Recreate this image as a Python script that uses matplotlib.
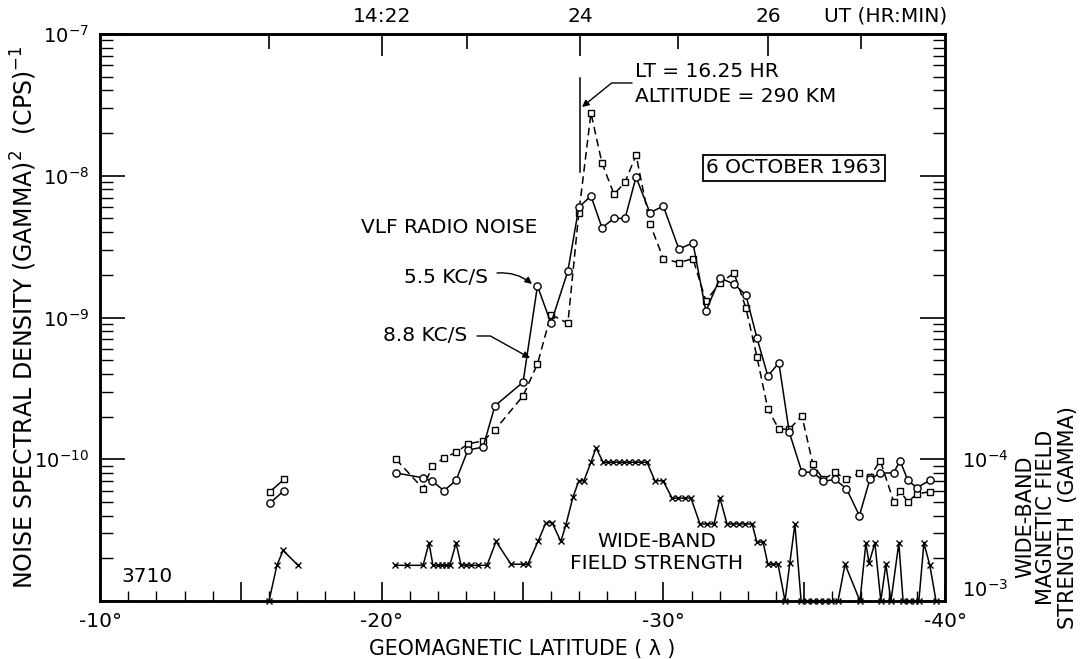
import numpy as np
import matplotlib
matplotlib.use('Agg')
import matplotlib.pyplot as plt
from matplotlib.ticker import MultipleLocator, FixedLocator, FuncFormatter, LogLocator, NullFormatter

plt.rcParams['font.family'] = 'DejaVu Sans'
plt.rcParams['mathtext.default'] = 'regular'

# short stretch of data near -16 deg
lat_early = [-16.03, -16.53]
ci_early = [4.9e-11, 6.0e-11]          # 5.5 kc/s
sq_early = [5.9e-11, 7.2e-11]          # 8.8 kc/s
lat_fs_early = [-16.00, -16.28, -16.50, -17.03]
fs_early = [1.0e-3, 5.6e-4, 4.4e-4, 5.6e-4]   # gamma

# main pass
lat_main = [-20.51, -21.47, -21.80, -22.21, -22.64, -23.06, -23.60, -24.02, -25.02, -25.53,
            -26.01, -26.61, -27.00, -27.43, -27.82, -28.25, -28.64, -29.03, -29.52, -30.00,
            -30.55, -31.05, -31.51, -32.01, -32.51, -32.93, -33.32, -33.71, -34.10, -34.47,
            -34.92, -35.31, -35.68, -36.09, -36.50, -36.96, -37.33, -37.70, -38.18, -38.40,
            -38.68, -39.00, -39.46]
ci_55 = [8.0e-11, 7.4e-11, 7.0e-11, 6.0e-11, 7.1e-11, 1.16e-10, 1.22e-10, 2.38e-10, 3.5e-10, 1.67e-9,
         9.1e-10, 2.13e-9, 6.0e-9, 7.2e-9, 4.3e-9, 5.0e-9, 5.0e-9, 9.8e-9, 5.5e-9, 6.1e-9,
         3.04e-9, 3.36e-9, 1.11e-9, 1.90e-9, 1.72e-9, 1.44e-9, 7.2e-10, 3.86e-10, 4.8e-10, 1.55e-10,
         8.1e-11, 8.1e-11, 7.0e-11, 7.2e-11, 6.2e-11, 4.0e-11, 7.2e-11, 8.0e-11, 8.0e-11, 9.8e-11,
         7.1e-11, 6.3e-11, 7.1e-11]
sq_88 = [1.0e-10, 6.2e-11, 9.0e-11, 1.02e-10, 1.12e-10, 1.28e-10, 1.35e-10, 1.61e-10, 2.8e-10, 4.7e-10,
         1.05e-9, 9.1e-10, 5.5e-9, 2.77e-8, 1.23e-8, 7.4e-9, 9.0e-9, 1.40e-8, 4.6e-9, 2.6e-9,
         2.44e-9, 2.6e-9, 1.31e-9, 1.75e-9, 2.06e-9, 1.17e-9, 5.3e-10, 2.26e-10, 1.63e-10, 1.63e-10,
         2.02e-10, 9.2e-11, 7.2e-11, 8.1e-11, 7.2e-11, 8.0e-11, 7.5e-11, 9.8e-11, 5.0e-11, 6.0e-11,
         5.0e-11, 5.7e-11, 5.9e-11]

lat_fs = [-20.47, -20.90, -21.47, -21.68, -21.82, -22.00, -22.14, -22.28, -22.42, -22.64,
          -22.82, -22.99, -23.17, -23.42, -23.74, -24.06, -24.59, -25.02, -25.19, -25.55,
          -25.83, -26.05, -26.36, -26.54, -26.79, -27.00, -27.18, -27.43, -27.61, -27.86,
          -28.03, -28.21, -28.42, -28.60, -28.78, -28.99, -29.20, -29.42, -29.70, -29.99,
          -30.31, -30.52, -30.77, -30.98, -31.30, -31.55, -31.80, -32.01, -32.26, -32.47,
          -32.68, -32.90, -33.15, -33.32, -33.54, -33.71, -33.89, -34.07, -34.32, -34.49,
          -34.67, -34.89, -35.10, -35.31, -35.52, -35.74, -35.95, -36.20, -36.45, -36.98,
          -37.19, -37.30, -37.51, -37.72, -37.90, -38.08, -38.36, -38.51, -38.72, -38.93,
          -39.07, -39.25, -39.46, -39.68]
fs_gamma = [5.6e-4, 5.6e-4, 5.6e-4, 3.9e-4, 5.6e-4, 5.6e-4, 5.6e-4, 5.6e-4, 5.6e-4, 3.9e-4,
            5.6e-4, 5.6e-4, 5.6e-4, 5.6e-4, 5.6e-4, 3.8e-4, 5.5e-4, 5.5e-4, 5.5e-4, 3.8e-4,
            2.8e-4, 2.8e-4, 3.8e-4, 2.9e-4, 1.85e-4, 1.42e-4, 1.42e-4, 1.05e-4, 8.3e-5, 1.05e-4,
            1.05e-4, 1.05e-4, 1.05e-4, 1.05e-4, 1.05e-4, 1.05e-4, 1.05e-4, 1.05e-4, 1.42e-4, 1.42e-4,
            1.88e-4, 1.88e-4, 1.88e-4, 1.88e-4, 2.86e-4, 2.86e-4, 2.86e-4, 1.88e-4, 2.86e-4, 2.86e-4,
            2.86e-4, 2.86e-4, 2.86e-4, 3.84e-4, 3.84e-4, 5.5e-4, 5.5e-4, 5.5e-4, 1.0e-3, 5.4e-4,
            2.87e-4, 1.0e-3, 1.0e-3, 1.0e-3, 1.0e-3, 1.0e-3, 1.0e-3, 1.0e-3, 5.5e-4, 1.0e-3,
            3.9e-4, 5.4e-4, 3.9e-4, 1.0e-3, 5.5e-4, 1.0e-3, 3.9e-4, 1.0e-3, 1.0e-3, 1.0e-3,
            1.0e-3, 3.9e-4, 5.6e-4, 1.0e-3]

# UT time marks on top axis (latitude where each minute falls)
ut_lat_major = [-20.01, -27.04, -33.71]
ut_labels = ['14:22', '24', '26']
ut_lat_minor = [-16.00, -23.03, -30.52, -37.01]
lt_mark_lat = -27.04

fig = plt.figure(figsize=(10.87, 6.59), dpi=100)
ax = fig.add_axes([0.092, 0.088, 0.7774, 0.8604])

line_kw = dict(color='k', lw=1.1, mec='k', mfc='white', mew=1.0, clip_on=False)
ax.plot(lat_main, sq_88, ls=(0, (5, 3)), marker='s', ms=4.2, zorder=3, **line_kw)
ax.plot(lat_early, sq_early, ls='-', marker='s', ms=4.2, zorder=3, **line_kw)
ax.plot(lat_main, ci_55, ls='-', marker='o', ms=5.2, zorder=4, **line_kw)
ax.plot(lat_early, ci_early, ls='-', marker='o', ms=5.2, zorder=4, **line_kw)

ax.set_yscale('log')
ax.set_ylim(1e-11, 1e-7)
ax.set_xlim(-10, -40)

ax2 = ax.twinx()
ax2.set_yscale('log')
ax2.set_ylim(1e-3, 1e-7)
ax2.plot(lat_fs, fs_gamma, ls='-', marker='x', ms=4.5, **line_kw)
ax2.plot(lat_fs_early, fs_early, ls='-', marker='x', ms=4.5, **line_kw)
ax2.yaxis.set_major_locator(FixedLocator([1e-4, 1e-3]))
ax2.yaxis.set_minor_locator(FixedLocator([]))
ax2.yaxis.set_major_formatter(FuncFormatter(lambda v, p: r'$10^{%d}$' % round(np.log10(v))))
ax2.tick_params(axis='y', which='both', length=0, labelsize=14, pad=12)
ax2.get_yticklabels()[1].set_verticalalignment('bottom')
ax2.set_ylabel('WIDE-BAND\nMAGNETIC FIELD\nSTRENGTH  (GAMMA)', fontsize=15,
               rotation=90, ha='center', va='center', linespacing=1.1)
ax2.yaxis.set_label_coords(1.12, 0.148)

# left axis ticks
ax.yaxis.set_major_locator(LogLocator(base=10, numticks=10))
ax.yaxis.set_minor_locator(LogLocator(base=10, subs=np.arange(2, 10), numticks=20))
ax.yaxis.set_minor_formatter(NullFormatter())
ax.yaxis.set_major_formatter(FuncFormatter(
    lambda v, p: '' if v < 5e-11 else r'$10^{%d}$' % round(np.log10(v))))
ax.tick_params(axis='y', which='major', direction='in', length=18, width=1.2,
               left=True, right=True, labelsize=14, pad=8)
ax.tick_params(axis='y', which='minor', direction='in', length=9, width=1.0,
               left=True, right=True)

# bottom axis ticks
ax.xaxis.set_major_locator(MultipleLocator(5))
ax.xaxis.set_minor_locator(MultipleLocator(1))
ax.xaxis.set_major_formatter(FuncFormatter(
    lambda v, p: '-%d°' % abs(round(v)) if round(v) % 10 == 0 else ''))
ax.tick_params(axis='x', which='major', direction='in', length=14, width=1.2,
               top=False, labelsize=14.5, pad=8)
ax.tick_params(axis='x', which='minor', direction='in', length=7, width=1.0, top=False)

# top UT axis
secax = ax.secondary_xaxis('top')
secax.xaxis.set_major_locator(FixedLocator(ut_lat_major))
secax.xaxis.set_major_formatter(FuncFormatter(lambda v, p: ut_labels[p] if p is not None and p < len(ut_labels) else ''))
secax.xaxis.set_minor_locator(FixedLocator(ut_lat_minor))
secax.tick_params(which='major', direction='in', length=16, width=1.2, labelsize=14.5, pad=6)
secax.tick_params(which='minor', direction='in', length=11, width=1.2)
secax.spines['top'].set_linewidth(1.8)

for sp in ax.spines.values():
    sp.set_linewidth(1.8)
for sp in ax2.spines.values():
    sp.set_linewidth(1.8)

ax.set_xlabel('GEOMAGNETIC LATITUDE ( λ )', fontsize=14.8, labelpad=6)
ax.set_ylabel(r'NOISE SPECTRAL DENSITY (GAMMA)$^2$  (CPS)$^{-1}$', fontsize=17,
              va='center')
ax.yaxis.set_label_coords(-0.09, 0.5)

fig.text(0.9296 * 0.7774 + 0.092, 0.975, 'UT (HR:MIN)', fontsize=14.5, ha='center', va='center')

# annotations
fs_txt = 14.5
ax.plot([lt_mark_lat, lt_mark_lat], [1.06e-8, 4.9e-8], color='k', lw=1.1)
ax.text(0.6331, 0.933, 'LT = 16.25 HR', transform=ax.transAxes, fontsize=fs_txt, va='center')
ax.text(0.6331, 0.889, 'ALTITUDE = 290 KM', transform=ax.transAxes, fontsize=fs_txt, va='center')
ax.annotate('', xy=(0.5704, 0.8713), xytext=(0.6296, 0.9136),
            xycoords='axes fraction', textcoords='axes fraction',
            arrowprops=dict(arrowstyle='-|>', color='k', lw=1.0, mutation_scale=10,
                            connectionstyle='angle,angleA=0,angleB=39,rad=0',
                            shrinkA=0, shrinkB=0))
ax.text(0.8213, 0.7637, '6 OCTOBER 1963', transform=ax.transAxes, fontsize=fs_txt,
        ha='center', va='center',
        bbox=dict(boxstyle='square,pad=0.15', fc='white', ec='k', lw=1.3))
ax.text(0.4136, 0.6596, 'VLF RADIO NOISE', transform=ax.transAxes, fontsize=fs_txt,
        ha='center', va='center')
ax.text(0.4592, 0.5714, '5.5 KC/S', transform=ax.transAxes, fontsize=fs_txt,
        ha='right', va='center')
ax.annotate('', xy=(0.5112, 0.5591), xytext=(0.4698, 0.5785),
            xycoords='axes fraction', textcoords='axes fraction',
            arrowprops=dict(arrowstyle='-|>', color='k', lw=1.0, mutation_scale=10,
                            connectionstyle='arc3,rad=-0.2', shrinkA=0, shrinkB=0))
ax.text(0.4343, 0.4691, '8.8 KC/S', transform=ax.transAxes, fontsize=fs_txt,
        ha='right', va='center')
ax.annotate('', xy=(0.5089, 0.4286), xytext=(0.4462, 0.4674),
            xycoords='axes fraction', textcoords='axes fraction',
            arrowprops=dict(arrowstyle='-|>', color='k', lw=1.0, mutation_scale=10,
                            connectionstyle='angle,angleA=0,angleB=151,rad=0',
                            shrinkA=0, shrinkB=0))
ax.text(0.659, 0.0864, 'WIDE-BAND\nFIELD STRENGTH', transform=ax.transAxes, fontsize=fs_txt,
        ha='center', va='center', linespacing=1.2)
ax.text(0.0556, 0.0441, '3710', transform=ax.transAxes, fontsize=fs_txt,
        ha='center', va='center')

fig.savefig('out.png', dpi=100)
